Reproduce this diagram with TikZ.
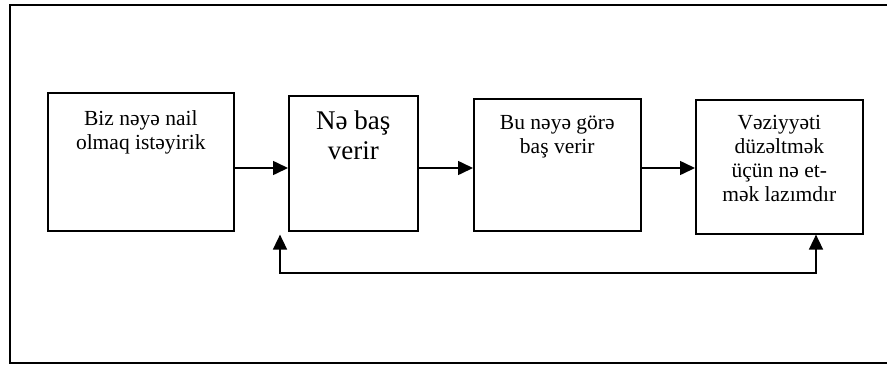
\documentclass[tikz,border=0pt]{standalone}
\usepackage{fontspec}
\setmainfont{Liberation Serif}
\usepackage{tikz}
\usetikzlibrary{
	arrows.meta,
	calc,
	positioning,
}
\tikzset{stage/.style={draw,line width=1.6pt,inner sep=0pt,anchor=north west,font=\fontsize{21.5}{24}\selectfont}}
\tikzset{big text/.style={font=\fontsize{27}{30}\selectfont}}
\tikzset{
	>={Triangle[length=15pt,width=14pt]},
}
\newcommand{\stagetext}[4]{\parbox[t][#2][t]{#1}{\centering\rule{0pt}{#3}#4}}

\begin{document}
\begin{tikzpicture}[x=1pt,y=-1pt,line width=1.6pt]
\useasboundingbox (0,0) rectangle (887,365);
\draw (10,5) rectangle (895,363);

\node[stage](1) at(47,92) {\stagetext{186pt}{138pt}{33pt}{Biz nəyə nail\\olmaq istəyirik}};
\node[stage,big text](2) at(288,95) {\stagetext{129pt}{135pt}{34pt}{Nə baş\\verir}};
\node[stage](3) at(473,98) {\stagetext{167pt}{132pt}{31pt}{Bu nəyə görə\\baş verir}};
\node[stage](4) at(695,99) {\stagetext{167pt}{134pt}{30pt}{Vəziyyəti\\düzəltmək\\üçün nə et-\\mək lazımdır}};

\coordinate(fl) at(280,273);
\coordinate(fr) at(816,273);

\draw[->] (1.east |- 0,168) -- (2.west |- 0,168);
\draw[->] (2.east |- 0,168) -- (3.west |- 0,168);
\draw[->] (3.east |- 0,168) -- (4.west |- 0,168);
\draw[<->,shorten <=3pt] (2.south -| fl) -- (fl) -- (fr) -- (4.south -| fr);

\end{tikzpicture}
\end{document}
